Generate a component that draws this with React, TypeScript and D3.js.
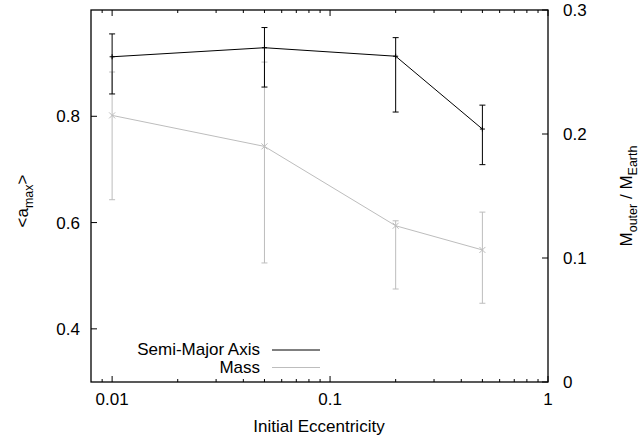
import * as d3 from 'd3';

// x values (initial eccentricity)
const eccentricities = [0.01, 0.05, 0.2, 0.5];

// semi-major axis <a_max>, left axis
const smaMean = [0.912, 0.929, 0.913, 0.776];
const smaLow = [0.842, 0.855, 0.808, 0.709];
const smaHigh = [0.955, 0.967, 0.948, 0.821];

// outer mass, right axis
const massMean = [0.215, 0.19, 0.126, 0.1065];
const massLow = [0.147, 0.096, 0.075, 0.0635];
const massHigh = [0.25, 0.258, 0.13, 0.137];

const xMajorTicks = [0.01, 0.1, 1];
const xTickLabels = ['0.01', '0.1', '1'];
const yLeftTicks = [0.4, 0.6, 0.8];
const yRightTicks = [0, 0.1, 0.2, 0.3];

const width = 643;
const height = 439;
const margin = { top: 10, right: 95, bottom: 57, left: 91 };
const font = '"Liberation Sans", Arial, Helvetica, sans-serif';
const gray = '#bdbdbd';

const App = () => {
  const x = d3.scaleLog().domain([0.008, 1]).range([margin.left, width - margin.right]);
  const yL = d3.scaleLinear().domain([0.3, 1.0]).range([height - margin.bottom, margin.top]);
  const yR = d3.scaleLinear().domain([0, 0.3]).range([height - margin.bottom, margin.top]);

  const x0 = margin.left;
  const x1 = width - margin.right;
  const y0 = height - margin.bottom;
  const y1 = margin.top;

  // minor ticks for log axis
  const minor: number[] = [];
  [0.001, 0.01, 0.1].forEach(base => {
    for (let k = 2; k <= 9; k++) {
      const v = base * k;
      if (v > 0.008 && v < 1 && !xMajorTicks.includes(v)) minor.push(v);
    }
  });

  const smaLine = d3.line<number>().x((d, i) => x(eccentricities[i])).y(d => yL(d));
  const massLine = d3.line<number>().x((d, i) => x(eccentricities[i])).y(d => yR(d));

  const cap = 3;

  return (
    <svg width={width} height={height} style={{ position: 'absolute', left: 0, top: 0, background: '#fff' }}
      fontFamily={font} fontSize={17}>
      {/* x ticks, bottom and mirrored top */}
      {xMajorTicks.map(t => (
        <g key={'xm' + t}>
          <line x1={x(t)} x2={x(t)} y1={y0} y2={y0 - 6} stroke="#000" />
          <line x1={x(t)} x2={x(t)} y1={y1} y2={y1 + 6} stroke="#000" />
        </g>
      ))}
      {minor.map(t => (
        <g key={'xn' + t}>
          <line x1={x(t)} x2={x(t)} y1={y0} y2={y0 - 3} stroke="#000" />
          <line x1={x(t)} x2={x(t)} y1={y1} y2={y1 + 3} stroke="#000" />
        </g>
      ))}
      {xMajorTicks.map((t, i) => (
        <text key={'xl' + t} x={x(t)} y={405} textAnchor="middle">{xTickLabels[i]}</text>
      ))}

      {/* left ticks */}
      {yLeftTicks.map(t => (
        <g key={'yl' + t}>
          <line x1={x0} x2={x0 + 6} y1={yL(t)} y2={yL(t)} stroke="#000" />
          <text x={80} y={yL(t) + 6} textAnchor="end">{t.toFixed(1)}</text>
        </g>
      ))}

      {/* right ticks */}
      {yRightTicks.map(t => (
        <g key={'yr' + t}>
          <line x1={x1} x2={x1 - 6} y1={yR(t)} y2={yR(t)} stroke="#000" />
          <text x={563} y={yR(t) + 6} textAnchor="start">{t === 0 ? '0' : t.toFixed(1)}</text>
        </g>
      ))}

      {/* mass series */}
      <g stroke={gray} fill="none">
        {eccentricities.map((e, i) => (
          <g key={'me' + i}>
            <line x1={x(e)} x2={x(e)} y1={yR(massLow[i])} y2={yR(massHigh[i])} />
            <line x1={x(e) - cap} x2={x(e) + cap} y1={yR(massLow[i])} y2={yR(massLow[i])} />
            <line x1={x(e) - cap} x2={x(e) + cap} y1={yR(massHigh[i])} y2={yR(massHigh[i])} />
            <path d={`M${x(e) - 3},${yR(massMean[i]) - 3}L${x(e) + 3},${yR(massMean[i]) + 3}M${x(e) - 3},${yR(massMean[i]) + 3}L${x(e) + 3},${yR(massMean[i]) - 3}`} />
          </g>
        ))}
        <path d={massLine(massMean) || ''} />
      </g>

      {/* semi-major axis series */}
      <g stroke="#000" fill="none">
        {eccentricities.map((e, i) => (
          <g key={'se' + i}>
            <line x1={x(e)} x2={x(e)} y1={yL(smaLow[i])} y2={yL(smaHigh[i])} />
            <line x1={x(e) - cap} x2={x(e) + cap} y1={yL(smaLow[i])} y2={yL(smaLow[i])} />
            <line x1={x(e) - cap} x2={x(e) + cap} y1={yL(smaHigh[i])} y2={yL(smaHigh[i])} />
            <path d={`M${x(e) - 2.5},${yL(smaMean[i])}H${x(e) + 2.5}M${x(e)},${yL(smaMean[i]) - 2.5}V${yL(smaMean[i]) + 2.5}`} />
          </g>
        ))}
        <path d={smaLine(smaMean) || ''} />
      </g>

      {/* frame */}
      <rect x={x0} y={y1} width={x1 - x0} height={y0 - y1} fill="none" stroke="#000" strokeWidth={1.3} />

      {/* legend */}
      <text x={260} y={355} textAnchor="end">Semi-Major Axis</text>
      <line x1={272} x2={320} y1={350} y2={350} stroke="#000" />
      <text x={260} y={373} textAnchor="end">Mass</text>
      <line x1={272} x2={320} y1={367.5} y2={367.5} stroke={gray} />

      {/* axis titles */}
      <text x={319} y={432} textAnchor="middle">Initial Eccentricity</text>
      <text transform="translate(28,201) rotate(-90)" textAnchor="middle">
        &lt;a<tspan fontSize={12.5} dy={5}>max</tspan><tspan dy={-5}>&gt;</tspan>
      </text>
      <text transform="translate(632,196) rotate(-90)" textAnchor="middle">
        M<tspan fontSize={12.5} dy={5}>outer</tspan><tspan dy={-5}> / M</tspan><tspan fontSize={12.5} dy={5}>Earth</tspan>
      </text>
    </svg>
  );
};

export default App;
